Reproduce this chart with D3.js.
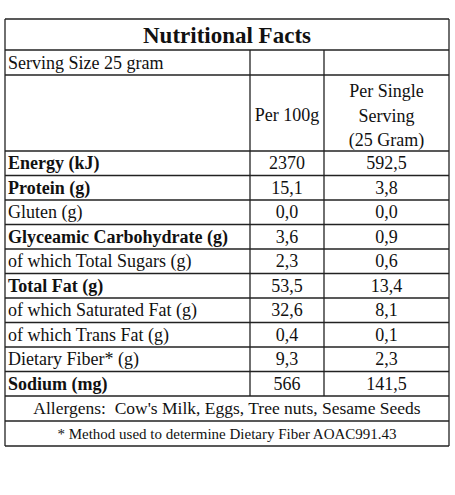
<!DOCTYPE html>
<html><head><meta charset="utf-8">
<script src="https://cdn.jsdelivr.net/npm/d3@7"></script>
<style>body{margin:0;background:#fff}</style></head>
<body><div id="chart"></div>
<script>
const nutrients = ["Energy (kJ)", "Protein (g)", "Gluten (g)", "Glyceamic Carbohydrate (g)", "of which Total Sugars (g)",
    "Total Fat (g)", "of which Saturated Fat (g)", "of which Trans Fat (g)", "Dietary Fiber* (g)", "Sodium (mg)"];
const boldRows = [true, true, false, true, false, true, false, false, false, true];
const per100g = ["2370", "15,1", "0,0", "3,6", "2,3", "53,5", "32,6", "0,4", "9,3", "566"];
const perServing = ["592,5", "3,8", "0,0", "0,9", "0,6", "13,4", "8,1", "0,1", "2,3", "141,5"];
const footer = ["Allergens:\u00a0 Cow's Milk, Eggs, Tree nuts, Sesame Seeds", "* Method used to determine Dietary Fiber AOAC991.43"];

const W = 455, H = 495;
const svg = d3.select("#chart").append("svg").attr("width", W).attr("height", H)
    .style("font-family", "'Liberation Serif', 'Times New Roman', serif");

const x0 = 5, x1 = 250, x2 = 324, x3 = 449;
const yTop = 19, yServ = 50, yHead = 75, yData = 151;
const fs = 18;
const y = d3.scaleBand().domain(d3.range(nutrients.length)).range([yData, 396]);
const yF = d3.scaleBand().domain(d3.range(footer.length)).range([396, 446]);
const ink = "#222";

// horizontal lines
const hl = [yTop, yServ, yHead, yData, ...d3.range(nutrients.length).map(i => y(i) + y.bandwidth()), yF(1), 446];
svg.selectAll("line.h").data(hl).enter().append("line")
    .attr("x1", x0).attr("x2", x3).attr("y1", d => d).attr("y2", d => d)
    .attr("stroke", ink).attr("stroke-width", 1.3);
// vertical lines
const vl = [[x0, yTop, 446], [x3, yTop, 446], [x1, yServ, 396], [x2, yServ, 396]];
svg.selectAll("line.v").data(vl).enter().append("line")
    .attr("x1", d => d[0]).attr("x2", d => d[0]).attr("y1", d => d[1]).attr("y2", d => d[2])
    .attr("stroke", ink).attr("stroke-width", 1.3);

svg.append("text").attr("x", (x0 + x3) / 2).attr("y", 43).attr("text-anchor", "middle")
    .attr("font-size", 23).attr("font-weight", "bold").attr("fill", "#111").text("Nutritional Facts");
svg.append("text").attr("x", 8).attr("y", 69).attr("font-size", fs).attr("fill", "#111").text("Serving Size 25 gram");
svg.append("text").attr("x", (x1 + x2) / 2).attr("y", 121).attr("text-anchor", "middle")
    .attr("font-size", fs).attr("fill", "#111").text("Per 100g");
["Per Single", "Serving", "(25 Gram)"].forEach((t, i) =>
    svg.append("text").attr("x", (x2 + x3) / 2).attr("y", 97 + i * 24.5).attr("text-anchor", "middle")
        .attr("font-size", fs).attr("fill", "#111").text(t));

const rows = svg.selectAll("g.row").data(nutrients).enter().append("g")
    .attr("transform", (d, i) => `translate(0,${y(i) + y.bandwidth() / 2 + 6})`);
rows.append("text").attr("x", 8).attr("font-size", fs).attr("fill", "#111")
    .attr("font-weight", (d, i) => boldRows[i] ? "bold" : "normal").text(d => d);
rows.append("text").attr("x", (x1 + x2) / 2).attr("text-anchor", "middle").attr("font-size", fs)
    .attr("fill", "#111").text((d, i) => per100g[i]);
rows.append("text").attr("x", (x2 + x3) / 2).attr("text-anchor", "middle").attr("font-size", fs)
    .attr("fill", "#111").text((d, i) => perServing[i]);

svg.selectAll("text.foot").data(footer).enter().append("text")
    .attr("x", (x0 + x3) / 2).attr("y", (d, i) => yF(i) + yF.bandwidth() / 2 + 5.5)
    .attr("text-anchor", "middle").attr("fill", "#111")
    .attr("font-size", (d, i) => i ? 15 : 17.5).text(d => d);
</script></body></html>
